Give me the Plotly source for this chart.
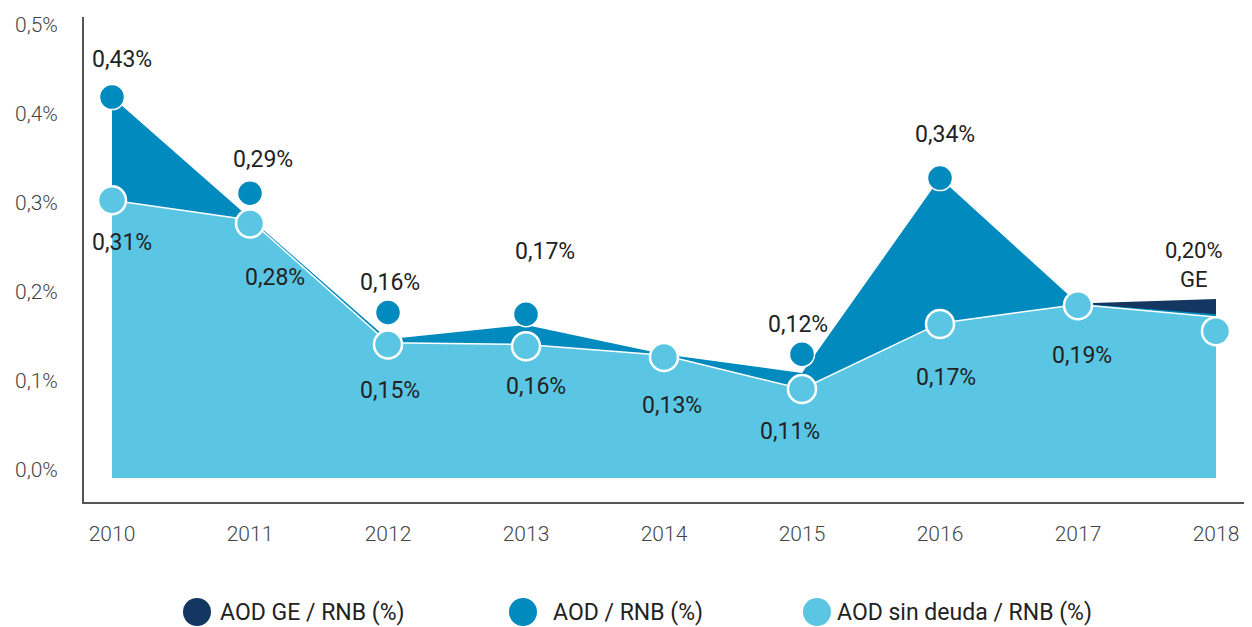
import plotly.graph_objects as go

# Datos (AOD como % de la RNB)
years = [2010, 2011, 2012, 2013, 2014, 2015, 2016, 2017, 2018]

# contornos de las áreas
sin_deuda_area = [0.312, 0.290, 0.152, 0.150, 0.138, 0.100, 0.174, 0.195, 0.181]
aod_area = [0.428, 0.292, 0.156, 0.172, 0.139, 0.118, 0.337, 0.196, 0.184]
ge_area = [None, None, None, None, None, None, None, 0.196, 0.201]

# puntos marcados
aod_dots = [0.428, 0.320, 0.186, 0.184, None, 0.139, 0.337, None, None]
sin_deuda_dots = [0.312, 0.286, 0.150, 0.148, 0.136, 0.100, 0.173, 0.194, 0.165]

# etiquetas
aod_labels = ["0,43%", "0,29%", "0,16%", "0,17%", "", "0,12%", "0,34%", "", ""]
sin_deuda_labels = ["0,31%", "0,28%", "0,15%", "0,16%", "0,13%", "0,11%", "0,17%", "0,19%", ""]
ge_label = "0,20%<br>GE"

y_ticks = [0.0, 0.1, 0.2, 0.3, 0.4, 0.5]
y_tick_text = ["0,0%", "0,1%", "0,2%", "0,3%", "0,4%", "0,5%"]

legend_names = ["AOD GE / RNB (%)", "AOD / RNB (%)", "AOD sin deuda / RNB (%)"]

NAVY = "#143761"
TEAL = "#008abd"
LIGHT = "#5bc6e3"
FONT = "Roboto"

# la página añade 8 px de margen al cuerpo: la figura es 8 px más pequeña
W, H = 1244, 619
L, R, T, B = 76, 2, 9, 125
PW, PH = W - L - R, H - T - B

# desplazamiento de etiquetas en px (dx, dy hacia abajo)
aod_shift = [(10, -38), (13, -34), (2, -30), (19, -63), None, (-4, -30), (5, -44), None, None]
sin_shift = [(10, 42), (25, 54), (2, 46), (10, 40), (8, 49), (-12, 42), (6, 53), (4, 50), None]

fig = go.Figure()

# áreas
fig.add_trace(go.Scatter(
    x=years, y=ge_area, mode="lines", fill="tozeroy",
    fillcolor=NAVY, line=dict(width=0, color=NAVY),
    showlegend=False, hoverinfo="skip"
))
fig.add_trace(go.Scatter(
    x=years, y=aod_area, mode="lines", fill="tozeroy",
    fillcolor=TEAL, line=dict(width=0, color=TEAL),
    showlegend=False, hoverinfo="skip"
))
fig.add_trace(go.Scatter(
    x=years, y=sin_deuda_area, mode="lines", fill="tozeroy",
    fillcolor=LIGHT, line=dict(width=1.5, color="white"),
    showlegend=False, hoverinfo="skip"
))

# puntos
fig.add_trace(go.Scatter(
    x=years, y=aod_dots, mode="markers", name=legend_names[1],
    marker=dict(size=25, color=TEAL, line=dict(width=1.5, color="white")),
    showlegend=False
))
fig.add_trace(go.Scatter(
    x=years, y=sin_deuda_dots, mode="markers", name=legend_names[2],
    marker=dict(size=28, color=LIGHT, line=dict(width=2.5, color="white")),
    showlegend=False
))

label_font = dict(family=FONT, size=23, color="#222222")
annotations = []
for yr, val, txt, sh in zip(years, aod_dots, aod_labels, aod_shift):
    if txt:
        annotations.append(dict(x=yr, y=val, text=txt, showarrow=False,
                                xshift=sh[0], yshift=-sh[1], font=label_font))
for yr, val, txt, sh in zip(years, sin_deuda_dots, sin_deuda_labels, sin_shift):
    if txt:
        annotations.append(dict(x=yr, y=val, text=txt, showarrow=False,
                                xshift=sh[0], yshift=-sh[1], font=label_font))
annotations.append(dict(x=years[-1], y=ge_area[-1], text=ge_label, showarrow=False,
                        xshift=-22, yshift=34, align="center",
                        font=dict(family=FONT, size=22, color="#222222")))

# etiquetas del eje Y (ligeramente elevadas, como en el original)
tick_font = dict(family=FONT, size=21, color="#444444", weight=300)
for val, txt in zip(y_ticks, y_tick_text):
    annotations.append(dict(x=0, xref="paper", y=val, yref="y", text=txt,
                            showarrow=False, xanchor="right", xshift=-24, yshift=8,
                            font=tick_font))

# leyenda manual con círculos grandes
shapes = []
legend_colors = [NAVY, TEAL, LIGHT]
legend_px = [189, 515, 809]
legend_gap = [23, 30, 20]
legend_y = (T + PH - (H - 15)) / PH
for name, col, px, gap in zip(legend_names, legend_colors, legend_px, legend_gap):
    xp = (px - L) / PW
    shapes.append(dict(type="circle", xref="paper", yref="paper",
                       xsizemode="pixel", ysizemode="pixel",
                       xanchor=xp, yanchor=legend_y,
                       x0=-14, x1=14, y0=-14, y1=14,
                       fillcolor=col, line=dict(width=0)))
    annotations.append(dict(x=xp, y=legend_y, xref="paper", yref="paper",
                            text=name, showarrow=False, xanchor="left",
                            xshift=gap - 2, yanchor="middle",
                            font=dict(family=FONT, size=23, color="#222222")))

fig.update_layout(
    width=W, height=H,
    margin=dict(l=L, r=R, t=T, b=B),
    paper_bgcolor="white", plot_bgcolor="white",
    font=dict(family=FONT, color="#333333"),
    xaxis=dict(
        range=[2010 - 28 / 138, 2010 + 1138 / 138],
        tickvals=years, ticktext=[str(y) for y in years],
        showgrid=False, zeroline=False, ticks="",
        showline=True, linecolor="#555555", linewidth=1.5,
        tickfont=tick_font,
        ticklabelstandoff=12
    ),
    yaxis=dict(
        range=[-24 / 890, 461 / 890],
        tickvals=y_ticks, showticklabels=False,
        showgrid=False, zeroline=False, ticks="",
        showline=True, linecolor="#555555", linewidth=1.5
    ),
    annotations=annotations,
    shapes=shapes,
    showlegend=False
)

fig.write_html("out.html")
